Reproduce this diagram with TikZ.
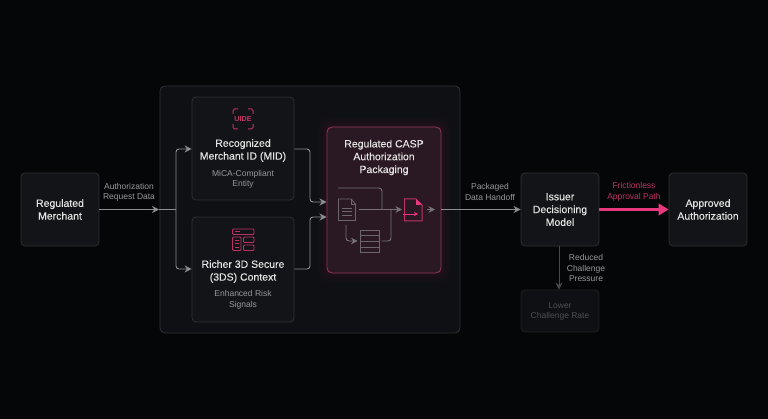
\documentclass[tikz,border=0pt]{standalone}
\usepackage{fontspec}
\setmainfont{Liberation Sans}
\newfontfamily\medfont[FakeBold=0.25]{Liberation Sans}
\usetikzlibrary{arrows.meta}
\definecolor{bgc}{HTML}{050608}
\definecolor{panelc}{HTML}{0F1013}
\definecolor{boxc}{HTML}{131417}
\definecolor{edgec}{HTML}{303134}
\definecolor{linec}{HTML}{8E8F91}
\definecolor{pinkc}{HTML}{E8397F}
\definecolor{iconc}{HTML}{BC3262}
\definecolor{caspc}{HTML}{2A1923}
\definecolor{caspedge}{HTML}{8E3657}
\definecolor{titlec}{HTML}{E4E4E4}
\definecolor{subc}{HTML}{97989A}
\tikzset{
  x=1pt,y=-1pt,
  cardbox/.style={draw=edgec,line width=.8pt,fill=boxc,rounded corners=4pt,inner sep=0pt},
  titletext/.style={text=titlec,align=center,inner sep=0pt,font=\medfont\fontsize{10.5}{12.8}\selectfont},
  subtext/.style={text=subc,align=center,inner sep=0pt,font=\fontsize{8.5}{10.6}\selectfont},
  flow/.style={draw=linec,line width=.9pt,rounded corners=3pt,-{Stealth[length=7pt,width=7pt]}},
  plainflow/.style={draw=linec,line width=.9pt,rounded corners=3pt},
  inflow/.style={draw=linec!75!caspc,line width=.9pt,rounded corners=3pt,-{Stealth[length=6.5pt,width=6.5pt]}},
  icon/.style={draw=iconc,line width=.9pt},
}
\begin{document}
\begin{tikzpicture}
\useasboundingbox (0,0) rectangle (768,419);
\fill[bgc] (0,0) rectangle (768,419);
% container
\node[draw=edgec,line width=.8pt,fill=panelc,rounded corners=5pt,minimum width=300pt,minimum height=247pt,inner sep=0pt] (panel) at (310,209.5) {};
% glow
\foreach \g/\o in {10/.012,8/.014,6/.016,4/.018,2/.02}{
  \fill[pinkc,opacity=\o,rounded corners=8pt] (327-\g,127-\g) rectangle (441+\g,273+\g);
}
% cards
\node[cardbox,minimum width=78pt,minimum height=73pt] (merchant) at (60,209.5) {};
\node[cardbox,minimum width=102pt,minimum height=103pt] (mid) at (243,148.5) {};
\node[cardbox,minimum width=102pt,minimum height=105pt] (tds) at (243,269.5) {};
\node[draw=caspedge,line width=.9pt,fill=caspc,rounded corners=5pt,minimum width=114pt,minimum height=146pt,inner sep=0pt] (casp) at (384,200) {};
\node[cardbox,minimum width=78pt,minimum height=73pt] (issuer) at (560,209.5) {};
\node[cardbox,minimum width=78pt,minimum height=73pt] (approved) at (708,209.5) {};
\node[draw=edgec!60!bgc,line width=.8pt,fill=boxc!70!bgc,rounded corners=4pt,minimum width=78pt,minimum height=42pt,inner sep=0pt] (lower) at (560,311) {};
% texts
\node[titletext] (t1) at (60,209.5) {Regulated\\Merchant};
\node[titletext] (t2) at (243,150.5) {Recognized\\Merchant ID (MID)};
\node[subtext] (s2) at (243,179.5) {MiCA-Compliant\\Entity};
\node[titletext] (t3) at (243,271.5) {Richer 3D Secure\\(3DS) Context};
\node[subtext] (s3) at (243,300) {Enhanced Risk\\Signals};
\node[titletext] (t4) at (384,157.5) {Regulated CASP\\Authorization\\Packaging};
\node[titletext] (t5) at (560,209.5) {Issuer\\Decisioning\\Model};
\node[titletext] (t6) at (708,209.5) {Approved\\Authorization};
\node[subtext,text=subc!50!bgc] (t7) at (560,311.5) {Lower\\Challenge Rate};
\node[subtext] (l1) at (129,192.3) {Authorization\\Request Data};
\node[subtext] (l2) at (490,192) {Packaged\\Data Handoff};
\node[subtext,text=iconc] (l3) at (634,192) {Frictionless\\Approval Path};
\node[subtext] (l4) at (586,268) {Reduced\\Challenge\\Pressure};
% junctions
\coordinate (split) at (176,209.5);
\coordinate (mergea) at (326.5,202);
\coordinate (mergeb) at (326.5,217);
% connectors
\draw[flow] (merchant.east) -- (159,209.5);
\draw[plainflow] (159,209.5) -- (split);
\draw[flow] (split) -- (176,149) -- (mid.west |- 0,149);
\draw[flow] (split) -- (176,269) -- (tds.west |- 0,269);
\draw[flow] (mid.east |- 0,149) -- (310,149) -- (310,202) -- (mergea);
\draw[flow] (tds.east |- 0,269) -- (310,269) -- (310,217) -- (mergeb);
\draw[draw=linec,line width=.9pt] (casp.east |- 0,209.5) -- (461,209.5);
\draw[flow] (461,209.5) -- (issuer.west |- 0,209.5);
\draw[draw=pinkc,line width=3.6pt,-{Triangle[length=10pt,width=11.5pt]}] (issuer.east) -- (approved.west);
\draw[draw=linec!50!bgc,line width=.9pt,-{Stealth[length=7pt,width=7pt]}] (issuer.south -| 559,0) -- (lower.north -| 559,0);
% MID icon
\begin{scope}[icon,line width=1pt]
\draw[rounded corners=1.5pt] (233,114) -- (233,109) -- (238,109);
\draw[rounded corners=1.5pt] (248,109) -- (253,109) -- (253,114);
\draw[rounded corners=1.5pt] (233,124) -- (233,129) -- (238,129);
\draw[rounded corners=1.5pt] (248,129) -- (253,129) -- (253,124);
\end{scope}
\node[text=iconc!85!pinkc,inner sep=0pt,font=\fontsize{7.2}{7}\selectfont\bfseries] (uide) at (243,119.5) {UIDE};
% 3DS icon
\begin{scope}[icon]
\draw[rounded corners=1pt] (232.5,229) rectangle (254,234.5);
\draw[rounded corners=1pt] (232.5,237) rectangle (241,250.5);
\draw[rounded corners=1pt] (243.5,237) rectangle (254,242.5);
\draw[rounded corners=1pt] (243.5,245) rectangle (254,250.5);
\draw[line width=.6pt] (235,231.7) -- (240,231.7) (235,240.5) -- (239,240.5) (235,243.7) -- (239,243.7) (235,247) -- (239,247);
\end{scope}
% CASP inner icons
\def\gr{linec!65!caspc}
\begin{scope}[draw=\gr,line width=.9pt]
\draw (338.5,199) -- (351,199) -- (355.5,204) -- (355.5,220.5) -- (338.5,220.5) -- cycle;
\draw[line width=.7pt] (351,199) -- (351,204) -- (355.5,204);
\draw[line width=.7pt] (342,208) -- (352,208) (342,211.5) -- (352,211.5) (342,215) -- (352,215);
\foreach \yy in {230,235.7,241.4,247.1}{\draw[line width=.8pt] (360.5,\yy) rectangle (379,\yy+5.7);}
\end{scope}
\draw[inflow] (359,209.5) -- (402,209.5);
\draw[draw=linec!75!caspc,line width=.9pt,rounded corners=3pt] (338,188) -- (382,188) -- (382,209.5);
\draw[inflow] (346,225) -- (346,241) -- (357.5,241);
\draw[draw=linec!75!caspc,line width=.9pt,rounded corners=3pt] (381.5,241) -- (391,241) -- (391,209.5);
\draw[icon,line width=1pt] (404.5,199) -- (416,199) -- (422,205) -- (422,221) -- (404.5,221) -- cycle;
\fill[pinkc] (416,199) -- (422,205) -- (416,205) -- cycle;
\draw[draw=pinkc,line width=.9pt,-{Stealth[length=4pt,width=4pt]}] (403,214) -- (418,214);
\draw[inflow] (427,209.5) -- (435,209.5);
\end{tikzpicture}
\end{document}
